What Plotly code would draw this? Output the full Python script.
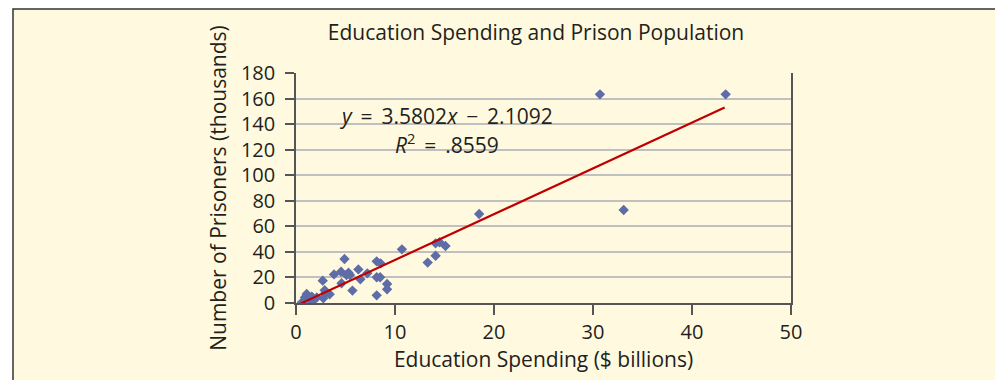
import plotly.graph_objects as go

# Data (x: $ billions, y: thousands of prisoners)
spending = [0.6, 0.9, 1.08, 1.4, 1.6, 1.75, 2.1, 2.7, 2.76, 2.9, 3.0, 3.4, 3.84, 4.55,
            4.6, 4.9, 5.1, 5.3, 5.45, 5.7, 6.3, 6.5, 7.2, 8.15, 8.55, 8.15, 8.5, 8.15,
            9.2, 9.2, 10.7, 13.3, 14.1, 14.1, 14.5, 15.1, 18.5, 30.7, 33.1, 43.4]
prisoners = [0.5, 4.4, 7.0, 2.3, 5.0, 1.8, 4.4, 17.5, 3.7, 10.0, 8.3, 6.8, 22.4, 24.5,
             15.4, 34.4, 21.9, 23.7, 21.9, 9.7, 26.3, 18.5, 23.2, 32.6, 31.0, 20.1, 20.1, 6.0,
             14.9, 10.7, 42.0, 31.6, 37.0, 46.7, 47.5, 44.6, 69.7, 163.3, 72.8, 163.3]

slope = 3.5802
intercept = -2.1092
trend_x = [0.5, 43.3]
trend_y = [slope * v + intercept for v in trend_x]

x_ticks = [0, 10, 20, 30, 40, 50]
y_ticks = [0, 20, 40, 60, 80, 100, 120, 140, 160, 180]

FONT = "Open Sans"
TXT = "#231F20"
TS = "\u2009"  # thin space

# plot area in page pixels (page has an 8px body margin)
W, H = 995, 372
PL, PR, PT, PB = 296, 791, 73, 303
PW, PH = PR - PL, PB - PT


def px(x):
    return (x - PL) / PW


def py(y):
    return (PB - y) / PH


fig = go.Figure()
fig.add_trace(go.Scatter(x=spending, y=prisoners, mode="markers",
                         marker=dict(symbol="diamond", size=8, color="#5E6CA8"),
                         showlegend=False, hoverinfo="x+y"))
fig.add_trace(go.Scatter(x=trend_x, y=trend_y, mode="lines",
                         line=dict(color="#C00000", width=2.2),
                         showlegend=False, hoverinfo="skip"))

fig.add_annotation(x=15.15, y=146.3, xref="x", yref="y", showarrow=False,
                   text=f"<i>y</i>{TS} = {TS}3.5802<i>x</i>{TS} − {TS}2.1092",
                   font=dict(family=FONT, size=21, color=TXT))
fig.add_annotation(x=15.3, y=125.2, xref="x", yref="y", showarrow=False,
                   text=f"<i>R</i><sup>2</sup>{TS} = {TS}.8559",
                   font=dict(family=FONT, size=21, color=TXT))

# cream panel with a frame (left and top edges visible)
fig.add_shape(type="rect", xref="paper", yref="paper", layer="below",
              x0=px(13), x1=px(1100), y0=py(500), y1=py(9),
              fillcolor="#FFFADF", line=dict(width=0))
fig.add_shape(type="path", xref="paper", yref="paper",
              path=f"M {px(13)},{py(500)} L {px(13)},{py(9)} L {px(1100)},{py(9)}",
              line=dict(color="#333333", width=1.5))

fig.update_layout(
    width=W, height=H,
    margin=dict(l=PL - 8, r=1003 - PR, t=PT - 8, b=380 - PB),
    paper_bgcolor="#FFFFFF",
    plot_bgcolor="#FFFFFF",
    font=dict(family=FONT, size=20, color=TXT),
    title=dict(text="Education Spending and Prison Population",
               x=(536 - 8) / W, xanchor="center", xref="container",
               y=1 - (33 - 8) / H, yanchor="middle", yref="container",
               font=dict(family=FONT, size=21, color=TXT)),
    xaxis=dict(range=[0, 50], tickvals=x_ticks, showgrid=False, zeroline=False,
               showline=True, linecolor="#555555", linewidth=1.5,
               ticks="outside", ticklen=10, tickcolor="#555555", tickwidth=1.5,
               tickfont=dict(size=20),
               title=dict(text="Education Spending ($ billions)", standoff=5,
                          font=dict(size=21))),
    yaxis=dict(range=[0, 180], tickvals=y_ticks, showgrid=True, gridcolor="#C0C0C0",
               gridwidth=1.5, zeroline=False,
               showline=True, mirror=True, linecolor="#555555", linewidth=1.5,
               ticks="outside", ticklen=9, tickcolor="#555555", tickwidth=1.5,
               tickfont=dict(size=20), ticklabelstandoff=6,
               title=dict(text="Number of Prisoners (thousands)", standoff=9,
                          font=dict(size=21))),
)

fig.write_html("out.html")
